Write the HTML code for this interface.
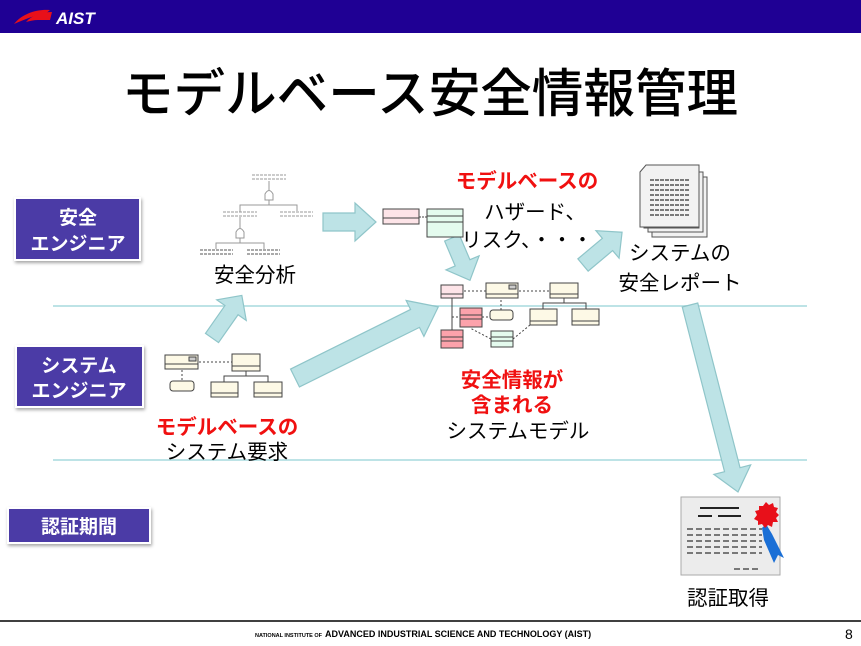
<!DOCTYPE html>
<html><head><meta charset="utf-8"><style>
body{margin:0;width:861px;height:646px;overflow:hidden;background:#fff;font-family:"Liberation Sans","Noto Sans CJK JP",sans-serif}
svg{display:block}
text{font-family:"Liberation Sans","Noto Sans CJK JP",sans-serif}
</style></head><body>
<svg width="861" height="646" viewBox="0 0 861 646" xmlns="http://www.w3.org/2000/svg">
<defs>
<filter id="sh" x="-10%" y="-10%" width="130%" height="140%"><feDropShadow dx="1" dy="2" stdDeviation="1.5" flood-color="#000" flood-opacity="0.35"/></filter>
</defs>
<!-- header -->
<rect x="0" y="0" width="861" height="33" fill="#1f0094"/>
<path d="M14 24 C22 14,36 9,50 10 L44 15 C34 15,26 19,14 24Z" fill="#e8101a"/>
<path d="M26 22 C32 15,42 12,52 12 L50 20 L38 20 C34 20,30 21,26 22Z" fill="#e8101a"/>
<text x="56" y="24" font-size="17" font-weight="bold" font-style="italic" fill="#fff">AIST</text>
<!-- title -->
<text x="122" y="112" font-size="52" font-weight="500" textLength="616" lengthAdjust="spacingAndGlyphs" fill="#000">モデルベース安全情報管理</text>
<!-- lane lines -->
<line x1="53" y1="306" x2="807" y2="306" stroke="#bde3e6" stroke-width="2"/>
<line x1="53" y1="460" x2="807" y2="460" stroke="#bde3e6" stroke-width="2"/>
<!-- role boxes -->
<g filter="url(#sh)">
<rect x="15" y="198" width="125" height="62" fill="#4b3aa6" stroke="#fff" stroke-width="2"/>
<rect x="16" y="346" width="127" height="61" fill="#4b3aa6" stroke="#fff" stroke-width="2"/>
<rect x="8" y="508" width="142" height="35" fill="#4b3aa6" stroke="#fff" stroke-width="2"/>
</g>
<g fill="#fff" font-size="19" font-weight="bold" text-anchor="middle">
<text x="78" y="224">安全</text><text x="78" y="250">エンジニア</text>
<text x="79" y="372">システム</text><text x="79" y="397">エンジニア</text>
<text x="79" y="533">認証期間</text>
</g>
<!-- arrows -->
<g fill="#bde3e6" stroke="#8fc5c9" stroke-width="1.2">
<polygon transform="translate(212,338) rotate(-55)" points="0,-8 34,-8 34,-18 52,0 34,18 34,8 0,8"/>
<polygon transform="translate(323,222) rotate(0)" points="0,-9 32,-9 32,-19 53,0 32,19 32,9 0,9"/>
<polygon transform="translate(452,238) rotate(67)" points="0,-8 27,-8 27,-18 46,0 27,18 27,8 0,8"/>
<polygon transform="translate(295,378) rotate(-26.4)" points="0,-10 134,-10 134,-20 160,0 134,20 134,10 0,10"/>
<polygon transform="translate(583,265) rotate(-40)" points="0,-8 32,-8 32,-18 51,0 32,18 32,8 0,8"/>
<polygon transform="translate(690,305) rotate(75.6)" points="0,-8 170,-8 170,-19 193,0 170,19 170,8 0,8"/>
</g>
<!-- fault tree -->
<g stroke="#999" stroke-width="1" fill="none">
<line x1="252" y1="175" x2="286" y2="175" stroke-dasharray="3,1"/><line x1="252" y1="179" x2="286" y2="179" stroke-dasharray="3,1"/>
<line x1="269" y1="181" x2="269" y2="190"/>
<path d="M265 200 L265 194 Q269 187 273 194 L273 200Z"/>
<path d="M240 212 L240 205 L297 205 L297 211"/><line x1="269" y1="200" x2="269" y2="205"/>
<line x1="223" y1="212" x2="257" y2="212" stroke-dasharray="3,1"/><line x1="223" y1="216" x2="257" y2="216" stroke-dasharray="3,1"/>
<line x1="280" y1="212" x2="313" y2="212" stroke-dasharray="3,1"/><line x1="280" y1="216" x2="313" y2="216" stroke-dasharray="3,1"/>
<line x1="240" y1="217" x2="240" y2="228"/>
<path d="M236 238 L236 232 Q240 225 244 232 L244 238Z"/>
<path d="M216 249 L216 243 L264 243 L264 249"/><line x1="240" y1="238" x2="240" y2="243"/>
<line x1="200" y1="250" x2="233" y2="250" stroke="#555" stroke-dasharray="3,1"/><line x1="200" y1="254" x2="233" y2="254" stroke="#555" stroke-dasharray="3,1"/>
<line x1="247" y1="250" x2="280" y2="250" stroke="#555" stroke-dasharray="3,1"/><line x1="247" y1="254" x2="280" y2="254" stroke="#555" stroke-dasharray="3,1"/>
</g>
<!-- hazard model -->
<g stroke="#444" stroke-width="1">
<rect x="383" y="209" width="36" height="15" fill="#fde4e8"/><line x1="383" y1="218" x2="419" y2="218"/>
<rect x="427" y="209" width="36" height="28" fill="#e4fbee"/><line x1="427" y1="216" x2="463" y2="216"/><line x1="427" y1="222" x2="463" y2="222"/>
<line x1="419" y1="217" x2="427" y2="217" stroke-dasharray="2,1"/>
</g>
<!-- system requirement model -->
<g stroke="#444" stroke-width="1" fill="#fdf9e6">
<rect x="165" y="355" width="33" height="14"/><line x1="165" y1="364" x2="198" y2="364"/><rect x="189" y="357" width="7" height="4" fill="#ccc"/>
<rect x="232" y="354" width="28" height="17"/><line x1="232" y1="366" x2="260" y2="366"/>
<rect x="170" y="381" width="24" height="10" rx="3"/>
<rect x="211" y="382" width="27" height="15"/><line x1="211" y1="393" x2="238" y2="393"/>
<rect x="254" y="382" width="28" height="15"/><line x1="254" y1="393" x2="282" y2="393"/>
<g fill="none"><line x1="199" y1="362" x2="232" y2="362" stroke-dasharray="2,2"/><line x1="182" y1="370" x2="182" y2="381" stroke-dasharray="2,2"/>
<path d="M224 382 L224 376 L268 376 L268 382 M246 376 L246 371"/></g>
</g>
<!-- system model -->
<g stroke="#444" stroke-width="1">
<rect x="441" y="285" width="22" height="13" fill="#fde4e8"/><line x1="441" y1="294" x2="463" y2="294"/>
<rect x="486" y="283" width="32" height="15" fill="#fdf9e6"/><line x1="486" y1="294" x2="518" y2="294"/><rect x="509" y="285" width="7" height="4" fill="#ccc"/>
<rect x="550" y="283" width="28" height="15" fill="#fdf9e6"/><line x1="550" y1="294" x2="578" y2="294"/>
<rect x="460" y="308" width="22" height="19" fill="#fca2ab"/><line x1="460" y1="315" x2="482" y2="315"/><line x1="460" y1="319" x2="482" y2="319"/>
<rect x="490" y="310" width="23" height="10" rx="3" fill="#fdf9e6"/>
<rect x="530" y="309" width="27" height="16" fill="#fdf9e6"/><line x1="530" y1="321" x2="557" y2="321"/>
<rect x="572" y="309" width="27" height="16" fill="#fdf9e6"/><line x1="572" y1="321" x2="599" y2="321"/>
<rect x="441" y="330" width="22" height="18" fill="#fca2ab"/><line x1="441" y1="337" x2="463" y2="337"/><line x1="441" y1="341" x2="463" y2="341"/>
<rect x="491" y="331" width="22" height="16" fill="#e4fbee"/><line x1="491" y1="337" x2="513" y2="337"/><line x1="491" y1="341" x2="513" y2="341"/>
<g fill="none">
<line x1="464" y1="291" x2="486" y2="291" stroke-dasharray="2,2"/><line x1="519" y1="291" x2="550" y2="291" stroke-dasharray="2,2"/>
<line x1="452" y1="298" x2="452" y2="330"/><line x1="452" y1="317" x2="460" y2="317" stroke-dasharray="2,2"/>
<line x1="482" y1="317" x2="490" y2="317" stroke-dasharray="2,2"/><line x1="501" y1="310" x2="501" y2="298" stroke-dasharray="2,2"/>
<path d="M543 309 L543 303 L586 303 L586 309 M564 303 L564 298"/>
<line x1="491" y1="339" x2="470" y2="328" stroke-dasharray="2,2"/><line x1="513" y1="339" x2="530" y2="325" stroke-dasharray="2,2"/>
</g>
</g>
<!-- document stack -->
<g stroke="#555" stroke-width="1" fill="#f2f2f2">
<rect x="652" y="177" width="55" height="60"/>
<rect x="648" y="172" width="55" height="60"/>
<rect x="644" y="168" width="55" height="60"/>
<path d="M640 172 L646 165 L699 165 L699 227 L640 227Z"/>
</g>
<g stroke="#333" stroke-width="1.3" stroke-dasharray="4,1">
<line x1="650" y1="180" x2="690" y2="180"/><line x1="650" y1="185" x2="690" y2="185"/><line x1="650" y1="190" x2="690" y2="190"/><line x1="650" y1="195" x2="690" y2="195"/><line x1="650" y1="200" x2="690" y2="200"/><line x1="650" y1="205" x2="690" y2="205"/><line x1="650" y1="210" x2="690" y2="210"/><line x1="650" y1="215" x2="690" y2="215"/>
</g>
<!-- certificate -->
<rect x="681" y="497" width="99" height="78" fill="#ececec" stroke="#aaa"/>
<g stroke="#222" stroke-width="2"><line x1="700" y1="508" x2="739" y2="508"/><line x1="698" y1="516" x2="712" y2="516"/><line x1="718" y1="516" x2="741" y2="516"/></g>
<g stroke="#333" stroke-width="1.3" stroke-dasharray="6,3"><line x1="687" y1="529" x2="762" y2="529"/><line x1="687" y1="535" x2="762" y2="535"/><line x1="687" y1="541" x2="762" y2="541"/><line x1="687" y1="547" x2="762" y2="547"/><line x1="687" y1="553" x2="762" y2="553"/><line x1="734" y1="569" x2="758" y2="569"/></g>
<polygon points="766,524 772,534 784,558 778,555 774,563 764,540 762,528" fill="#1a6fd6"/>
<polygon points="766,502 769,505 773,503 774,507 778,508 776,512 779,515 776,518 778,522 773,522 772,527 768,525 765,528 762,524 758,525 758,521 754,519 757,515 755,511 759,510 759,506 763,506" fill="#e8101a"/>
<!-- labels -->
<g font-size="20.5" text-anchor="middle">
<text x="255" y="282">安全分析</text>
<text x="527" y="188" fill="#f01010" font-weight="bold">モデルベースの</text>
<text x="535" y="219">ハザード、</text>
<text x="527" y="247">リスク、・・・</text>
<text x="680" y="260">システムの</text>
<text x="680" y="290">安全レポート</text>
<text x="512" y="387" fill="#f01010" font-weight="bold">安全情報が</text>
<text x="512" y="412" fill="#f01010" font-weight="bold">含まれる</text>
<text x="518" y="438">システムモデル</text>
<text x="227" y="434" fill="#f01010" font-weight="bold">モデルベースの</text>
<text x="227" y="459">システム要求</text>
<text x="728" y="605">認証取得</text>
</g>
<!-- footer -->
<line x1="0" y1="621" x2="861" y2="621" stroke="#000" stroke-width="1.5"/>
<text x="255" y="637" font-size="5.5" font-weight="bold" fill="#000">NATIONAL INSTITUTE OF</text>
<text x="325" y="637" font-size="9" font-weight="bold" fill="#000">ADVANCED INDUSTRIAL SCIENCE AND TECHNOLOGY (AIST)</text>
<text x="845" y="639" font-size="14" fill="#000">8</text>
</svg>
</body></html>
